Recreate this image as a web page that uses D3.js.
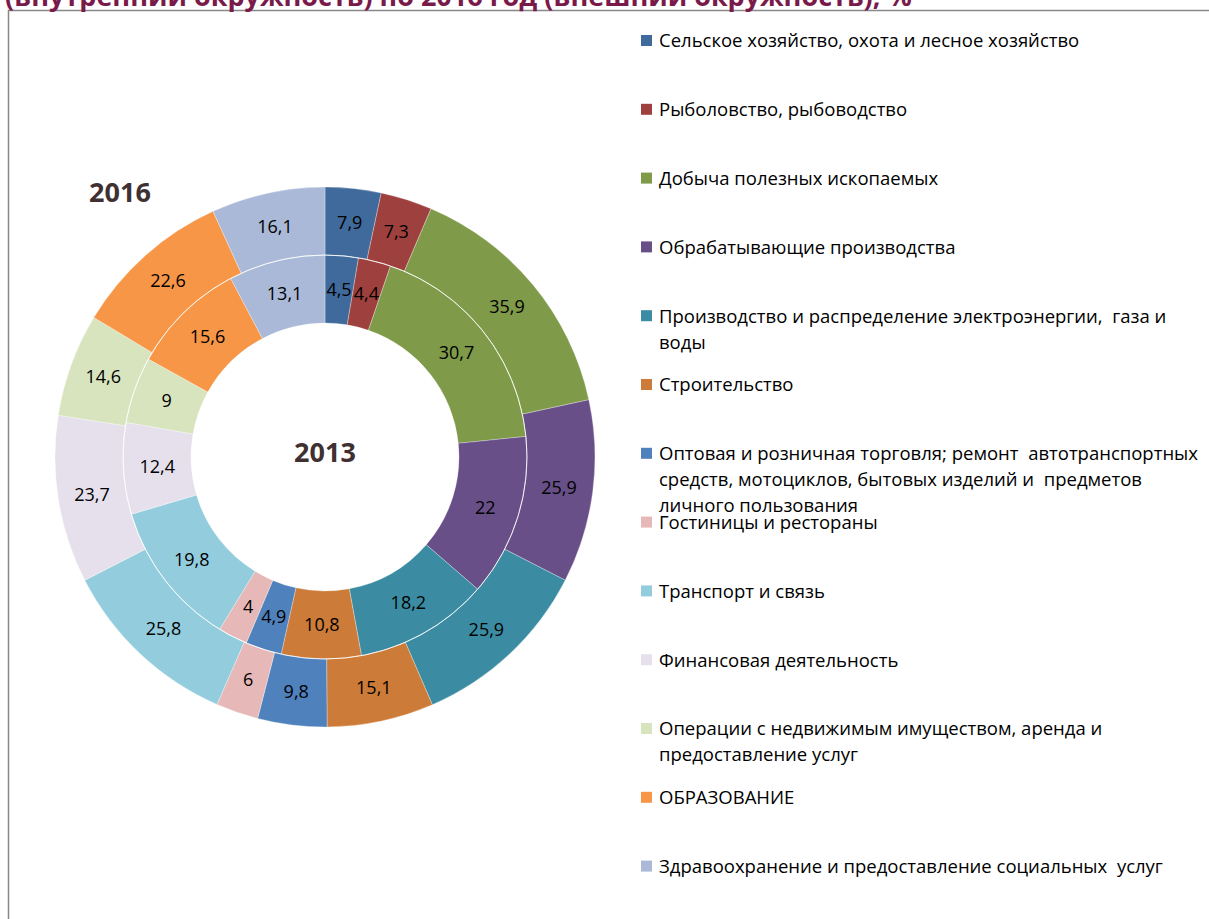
<!DOCTYPE html>
<html>
<head>
<meta charset="utf-8">
<script src="https://cdn.jsdelivr.net/npm/d3@7"></script>
<style>
  body { margin: 0; background: #fff; }
  svg { display: block; font-family: "Open Sans", "Noto Sans", sans-serif; }
  text { white-space: pre; }
</style>
</head>
<body>
<div id="chart"></div>
<script>
// Отрасли (легенда)
const categories = [
    ["Сельское хозяйство, охота и лесное хозяйство"],
    ["Рыболовство, рыбоводство"],
    ["Добыча полезных ископаемых"],
    ["Обрабатывающие производства"],
    ["Производство и распределение электроэнергии,  газа и", "воды"],
    ["Строительство"],
    ["Оптовая и розничная торговля; ремонт  автотранспортных", "средств, мотоциклов, бытовых изделий и  предметов", "личного пользования"],
    ["Гостиницы и рестораны"],
    ["Транспорт и связь"],
    ["Финансовая деятельность"],
    ["Операции с недвижимым имуществом, аренда и", "предоставление услуг"],
    ["ОБРАЗОВАНИЕ"],
    ["Здравоохранение и предоставление социальных  услуг"]
];

// 2013 год - внутреннее кольцо
const values2013 = [4.5, 4.4, 30.7, 22, 18.2, 10.8, 4.9, 4, 19.8, 12.4, 9, 15.6, 13.1];
// 2016 год - внешнее кольцо
const values2016 = [7.9, 7.3, 35.9, 25.9, 25.9, 15.1, 9.8, 6, 25.8, 23.7, 14.6, 22.6, 16.1];

const colors = ["#3F6A9B", "#9E413E", "#7F9A48", "#684F87", "#3B8CA2", "#CC7B38",
                "#4F81BD", "#E6B9B8", "#93CDDD", "#E6E0EC", "#D7E4BD", "#F79646", "#A9B9D7"];

const titleText = "(внутренний окружность) по 2016 год (внешний окружность), %";

const W = 1209, H = 919;
const cx = 325, cy = 457;
const rHole = 134, rMid = 202, rOut = 270;

const svg = d3.select("#chart")
    .append("svg")
    .attr("width", W)
    .attr("height", H);

// Рамка
svg.append("path")
    .attr("d", `M8.5,${H} L8.5,10.5 L${W},10.5`)
    .attr("fill", "none")
    .attr("stroke", "#888")
    .attr("stroke-width", 1.5);

// Заголовок (обрезан сверху)
svg.append("text")
    .attr("x", 5)
    .attr("y", 6)
    .style("font-size", "27px")
    .style("font-weight", "bold")
    .style("fill", "#7A1A4A")
    .text(titleText);

const color = d3.scaleOrdinal().domain(d3.range(categories.length)).range(colors);

const pie = d3.pie().sort(null).value(d => d);

const g = svg.append("g").attr("transform", `translate(${cx},${cy})`);

function ring(values, r0, r1, cls) {
    const arc = d3.arc().innerRadius(r0).outerRadius(r1);
    const arcs = pie(values);
    g.selectAll("." + cls)
        .data(arcs)
        .enter()
        .append("path")
        .attr("class", cls)
        .attr("d", arc)
        .attr("fill", (d, i) => color(i))
        .attr("stroke", "#fff")
        .attr("stroke-width", 0.3);

    g.selectAll("." + cls + "-label")
        .data(arcs)
        .enter()
        .append("text")
        .attr("class", cls + "-label")
        .attr("transform", d => `translate(${arc.centroid(d)})`)
        .attr("text-anchor", "middle")
        .attr("dy", "0.35em")
        .style("font-size", "18px")
        .style("fill", "#000")
        .text(d => String(d.data).replace(".", ","));
}

ring(values2013, rHole, rMid, "inner");
ring(values2016, rMid, rOut, "outer");

// Граница между кольцами
g.append("circle")
    .attr("r", rMid)
    .attr("fill", "none")
    .attr("stroke", "#fff")
    .attr("stroke-width", 0.8);

// Подписи годов
svg.append("text")
    .attr("x", 325)
    .attr("y", 453)
    .attr("dy", "0.35em")
    .attr("text-anchor", "middle")
    .style("font-size", "27px")
    .style("font-weight", "bold")
    .style("fill", "#403031")
    .text("2013");

svg.append("text")
    .attr("x", 120)
    .attr("y", 193)
    .attr("dy", "0.35em")
    .attr("text-anchor", "middle")
    .style("font-size", "27px")
    .style("font-weight", "bold")
    .style("fill", "#403031")
    .text("2016");

// Легенда
const legendX = 641, legendY0 = 41, legendStep = 68.8, lineH = 26;
const legend = svg.append("g");

categories.forEach((lines, i) => {
    const y = legendY0 + i * legendStep;
    legend.append("rect")
        .attr("x", legendX)
        .attr("y", y - 6)
        .attr("width", 11)
        .attr("height", 11)
        .attr("fill", color(i));
    const t = legend.append("text")
        .attr("x", legendX + 18)
        .attr("y", y)
        .style("font-size", "18.5px")
        .style("fill", "#000");
    lines.forEach((ln, j) => {
        t.append("tspan")
            .attr("x", legendX + 18)
            .attr("y", y + j * lineH)
            .attr("dy", "0.35em")
            .text(ln);
    });
});
</script>
</body>
</html>
